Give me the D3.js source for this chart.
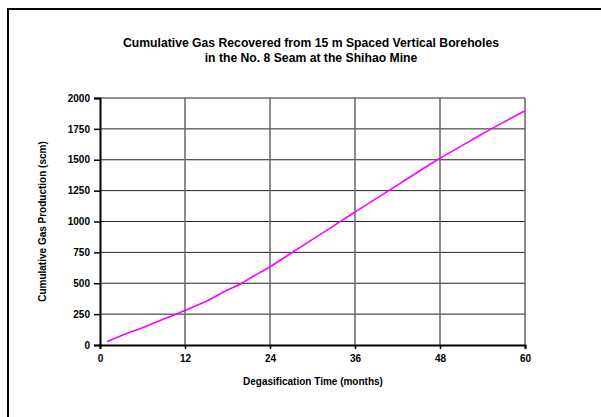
<!DOCTYPE html>
<html>
<head>
<meta charset="utf-8">
<script src="https://cdn.jsdelivr.net/npm/d3@7"></script>
<style>
  body { margin: 0; background: #fff; }
  text { font-family: "Liberation Sans", Arial, sans-serif; font-weight: bold; }
</style>
</head>
<body>
<div id="chart"></div>
<script>
"use strict";

// data
var months = [1, 3, 6, 9, 12, 15, 18, 20, 21, 24, 27, 30, 33, 36, 39, 42, 45, 48, 51, 54, 57, 60];
var gas    = [27, 75, 140, 210, 280, 355, 445, 500, 535, 634, 745, 855, 965, 1077, 1185, 1295, 1405, 1512, 1610, 1710, 1805, 1897];
var xTicks = [0, 12, 24, 36, 48, 60];
var yTicks = [0, 250, 500, 750, 1000, 1250, 1500, 1750, 2000];
var titleLines = ["Cumulative Gas Recovered from 15 m Spaced Vertical Boreholes",
                  "in the No. 8 Seam at the Shihao Mine"];

var W = 601, H = 417;
var margin = { top: 98, right: 76, bottom: 72, left: 100 };
var w = W - margin.left - margin.right;
var h = H - margin.top - margin.bottom;

var svg = d3.select("#chart").append("svg")
    .attr("width", W).attr("height", H);

// outer chart frame (runs off right / bottom)
svg.append("rect")
    .attr("x", 8).attr("y", 9)
    .attr("width", 620).attr("height", 430)
    .attr("fill", "none").attr("stroke", "#000").attr("stroke-width", 2);

var x = d3.scaleLinear().domain([0, 60]).range([0, w]);
var y = d3.scaleLinear().domain([0, 2000]).range([h, 0]);

var g = svg.append("g")
    .attr("transform", "translate(" + margin.left + "," + margin.top + ")");

// horizontal grid
g.append("g").selectAll("line").data(yTicks.slice(1))
  .join("line")
    .attr("x1", 0).attr("x2", w)
    .attr("y1", d => y(d)).attr("y2", d => y(d))
    .attr("stroke", "#222").attr("stroke-width", 1);

// vertical grid
g.append("g").selectAll("line").data(xTicks.slice(1))
  .join("line")
    .attr("x1", d => x(d)).attr("x2", d => x(d))
    .attr("y1", 0).attr("y2", h)
    .attr("stroke", "#666").attr("stroke-width", 1.5);

// axes
var yAxis = g.append("g")
    .call(d3.axisLeft(y).tickValues(yTicks).tickFormat(d3.format("d")).tickSize(6).tickPadding(4));
var xAxis = g.append("g")
    .attr("transform", "translate(0," + h + ")")
    .call(d3.axisBottom(x).tickValues(xTicks).tickFormat(d3.format("d")).tickSize(4).tickPadding(6));

[xAxis, yAxis].forEach(function(a) {
  a.select(".domain").attr("stroke", "#000").attr("stroke-width", 2);
  a.selectAll(".tick line").attr("stroke", "#000").attr("stroke-width", 1.5);
  a.selectAll("text").attr("font-size", 10).attr("fill", "#000")
    .style("font-family", "'Liberation Sans', Arial, sans-serif").style("font-weight", "bold");
});

// the curve
var line = d3.line()
    .x((d, i) => x(months[i]))
    .y(d => y(d))
    .curve(d3.curveMonotoneX);

g.append("path")
    .datum(gas)
    .attr("d", line)
    .attr("fill", "none")
    .attr("stroke", "#ff00ff")
    .attr("stroke-width", 1.6);

// title
svg.append("g").selectAll("text").data(titleLines)
  .join("text")
    .attr("x", 311)
    .attr("y", (d, i) => 47 + i * 15)
    .attr("text-anchor", "middle")
    .attr("font-size", 12.2)
    .text(d => d);

// axis titles
svg.append("text")
    .attr("x", 313).attr("y", 385)
    .attr("text-anchor", "middle")
    .attr("font-size", 10)
    .text("Degasification Time (months)");

svg.append("text")
    .attr("transform", "translate(46," + (margin.top + h / 2) + ") rotate(-90)")
    .attr("text-anchor", "middle")
    .attr("font-size", 10)
    .text("Cumulative Gas Production (scm)");
</script>
</body>
</html>
